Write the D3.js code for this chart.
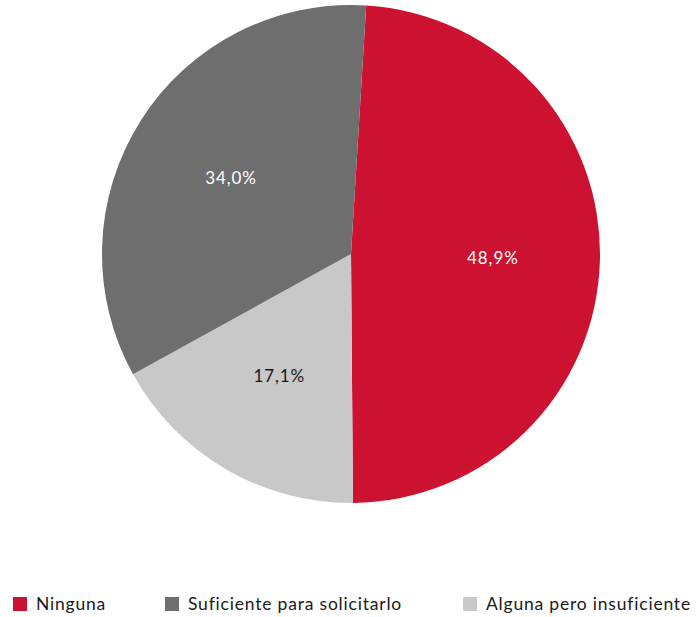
<!DOCTYPE html>
<html>
<head>
<meta charset="utf-8">
<script src="https://cdn.jsdelivr.net/npm/d3@7"></script>
<style>
  body { margin: 0; background: #fff; }
  svg { display: block; font-family: "Lato", "Open Sans", sans-serif; }
</style>
</head>
<body>
<svg width="696" height="617"></svg>
<script>
var categories = ["Ninguna", "Alguna pero insuficiente", "Suficiente para solicitarlo"];
var values = [48.9, 17.1, 34.0];
var colors = ["#cc1230", "#c8c8c8", "#6e6e6e"];
var labelColors = ["#fff", "#1a1a1a", "#fff"];
var legendOrder = ["Ninguna", "Suficiente para solicitarlo", "Alguna pero insuficiente"];

var svg = d3.select("svg");
var cx = 351, cy = 254, radius = 249;

var data = categories.map(function(c, i) {
  return { name: c, value: values[i], color: colors[i], label: labelColors[i] };
});

var start = 3.5 * Math.PI / 180;
var pie = d3.pie()
  .sort(null)
  .value(function(d) { return d.value; })
  .startAngle(start)
  .endAngle(start + 2 * Math.PI);

var arc = d3.arc().innerRadius(0).outerRadius(radius);
var labelArc = d3.arc().innerRadius(radius * 0.57).outerRadius(radius * 0.57);

var g = svg.append("g").attr("transform", "translate(" + cx + "," + cy + ")");

var slices = g.selectAll("g.slice")
  .data(pie(data))
  .enter()
  .append("g")
  .attr("class", "slice");

slices.append("path")
  .attr("d", arc)
  .attr("fill", function(d) { return d.data.color; });

slices.append("text")
  .attr("transform", function(d) { return "translate(" + labelArc.centroid(d) + ")"; })
  .attr("text-anchor", "middle")
  .attr("dy", "0.35em")
  .attr("font-size", 17)
  .attr("letter-spacing", 0.9)
  .attr("fill", function(d) { return d.data.label; })
  .text(function(d) { return d.data.value.toFixed(1).replace(".", ",") + "%"; });

// legend
var legendX = [13, 165, 463];
var legend = svg.append("g").attr("class", "legend");
var items = legend.selectAll("g")
  .data(legendOrder)
  .enter()
  .append("g")
  .attr("transform", function(d, i) { return "translate(" + legendX[i] + ",597)"; });

items.append("rect")
  .attr("width", 14)
  .attr("height", 14)
  .attr("fill", function(d) { return colors[categories.indexOf(d)]; });

items.append("text")
  .attr("x", 23)
  .attr("y", 13)
  .attr("font-size", 17.5)
  .attr("letter-spacing", 0.8)
  .attr("fill", "#1a1a1a")
  .text(function(d) { return d; });
</script>
</body>
</html>
